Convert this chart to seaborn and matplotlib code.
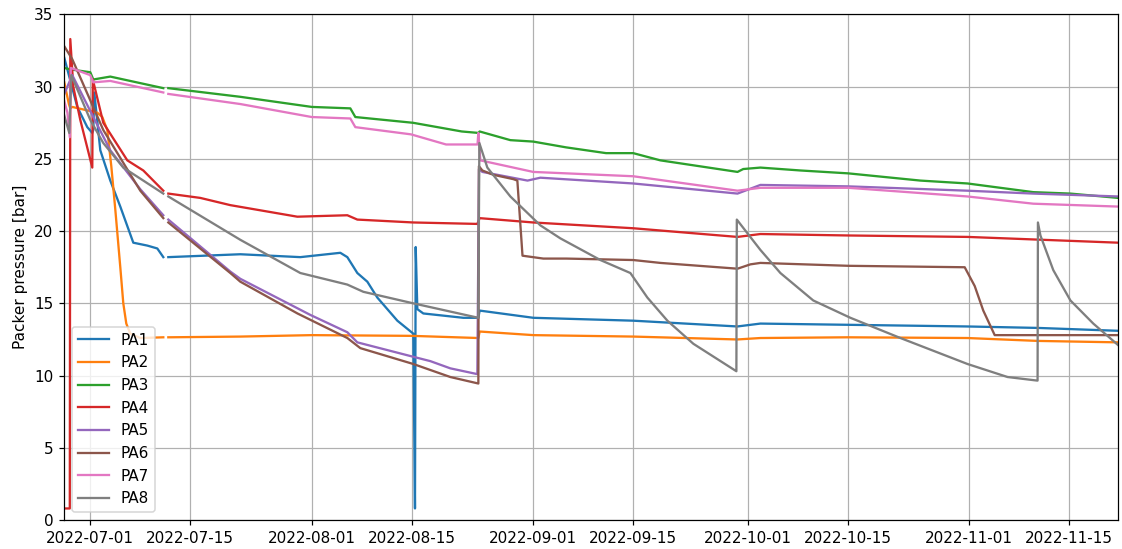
import numpy as np
import pandas as pd
import seaborn as sns
import matplotlib
matplotlib.use("Agg")
import matplotlib.pyplot as plt
import matplotlib.dates as mdates

nan = np.nan
base = pd.Timestamp("2022-07-01")

# days after 2022-07-01 and pressure [bar]; nan marks the data gap around 07-11
pa1_days = [-3.64, -1.82, -0.42, 0.28, 0.42, 0.56, 1.4, 2.8, 4.2, 6.02, 7.98, 9.38, 10.22, 10.6,
            10.92, 21.0, 29.4, 35.0, 35.98, 37.38, 38.78, 40.18, 42.98, 45.22, 45.45, 45.55,
            45.78, 46.62, 52.22, 54.32, 54.5, 62.02, 76.02, 90.58, 93.8, 122.78, 132.58, 143.9]
pa1_bar = [32.0, 28.6, 27.2, 26.8, 27.0, 29.6, 25.6, 23.5, 21.7, 19.2, 19.0, 18.8, 18.2, nan,
           18.2, 18.4, 18.2, 18.5, 18.2, 17.1, 16.5, 15.4, 13.8, 12.9, 0.8, 18.9,
           14.6, 14.3, 14.0, 14.0, 14.5, 14.0, 13.8, 13.4, 13.6, 13.4, 13.3, 13.1]

pa2_days = [-3.64, -3.0, -2.8, -2.52, 0.98, 1.68, 2.38, 2.94, 3.5, 4.2, 4.62,
            5.04, 5.6, 7.0, 10.22, 10.6, 10.92, 21.0, 31.0, 45.0, 54.32, 54.5, 62.02, 76.02,
            90.58, 93.8, 106.0, 122.78, 132.6, 143.9]
pa2_bar = [30.3, 28.8, 28.5, 28.6, 28.2, 27.9, 27.0, 24.5, 21.5, 17.5, 15.0,
           13.6, 12.9, 12.6, 12.65, nan, 12.65, 12.7, 12.8, 12.75, 12.6, 13.05, 12.8, 12.7,
           12.5, 12.6, 12.65, 12.6, 12.4, 12.3]

pa3_days = [-3.64, -2.8, 0.0, 0.42, 2.8, 10.22, 10.6, 10.92, 21.0, 31.0, 36.4, 37.1, 45.2, 52.0,
            54.32, 54.5, 58.8, 62.0, 66.6, 72.2, 76.0, 79.8, 90.6, 91.4, 93.8, 99.4, 106.1,
            116.2, 122.8, 132.0, 137.2, 143.9]
pa3_bar = [31.3, 31.2, 31.0, 30.5, 30.7, 29.9, nan, 29.9, 29.3, 28.6, 28.5, 27.9, 27.5, 26.9,
           26.8, 26.9, 26.3, 26.2, 25.8, 25.4, 25.4, 24.9, 24.1, 24.3, 24.4, 24.2, 24.0,
           23.5, 23.3, 22.7, 22.6, 22.3]

pa4_days = [-3.64, -2.87, -2.8, -2.38, -1.4, 0.28, 0.35, 1.82, 5.18, 7.42, 10.22, 10.6,
            10.92, 15.4, 19.6, 28.98, 35.98, 37.38, 45.22, 54.18, 54.5, 62.0, 76.0, 90.6, 93.8,
            106.1, 122.8, 143.9]
pa4_bar = [0.8, 0.8, 33.3, 30.0, 27.7, 24.4, 30.5, 27.5, 24.9, 24.2, 22.8, nan,
           22.6, 22.3, 21.8, 21.0, 21.1, 20.8, 20.6, 20.5, 20.9, 20.6, 20.2, 19.6, 19.8,
           19.7, 19.6, 19.2]

pa5_days = [-3.64, -2.52, 0.42, 2.8, 7.0, 10.22, 10.6, 10.92, 19.6, 21.0, 30.8, 35.98, 37.38,
            45.22, 47.6, 50.4, 54.18, 54.4, 54.88, 61.2, 63.0, 76.0, 90.6, 93.8, 106.1, 122.8,
            132.0, 143.9]
pa5_bar = [29.5, 30.8, 27.9, 25.6, 22.9, 21.1, nan, 20.8, 17.2, 16.7, 14.2, 13.0, 12.3,
           11.3, 11.0, 10.5, 10.1, 24.3, 24.1, 23.5, 23.7, 23.3, 22.6, 23.2, 23.1, 22.8,
           22.6, 22.4]

pa6_days = [-3.64, -2.52, 1.82, 7.0, 10.22, 10.6, 10.92, 19.6, 21.0, 29.0, 35.98, 37.8,
            45.22, 50.4, 54.32, 54.4, 54.88, 56.42, 59.22, 59.78, 60.5, 63.42, 66.64, 76.0,
            79.8, 90.6, 92.4, 93.8, 106.1, 122.4, 123.8, 125.0, 126.6, 132.6, 143.9]
pa6_bar = [32.8, 31.9, 27.0, 22.8, 20.9, nan, 20.6, 17.1, 16.5, 14.3, 12.6, 11.9,
           10.8, 9.9, 9.45, 24.5, 24.2, 23.9, 23.6, 23.5, 18.3, 18.1, 18.1, 18.0,
           17.8, 17.4, 17.7, 17.8, 17.6, 17.5, 16.2, 14.5, 12.8, 12.8, 12.8]

pa7_days = [-3.64, -3.2, -2.87, -2.73, 0.0, 0.42, 2.8, 10.22, 10.6, 10.92, 21.0, 31.0, 36.4,
            37.1, 44.9, 49.8, 54.2, 54.32, 54.6, 62.0, 76.0, 90.6, 93.8, 106.1, 122.8, 132.0,
            143.9]
pa7_bar = [29.0, 28.2, 26.5, 31.3, 30.8, 30.3, 30.4, 29.6, nan, 29.5, 28.8, 27.9, 27.8,
           27.2, 26.7, 26.0, 26.0, 26.8, 24.9, 24.1, 23.8, 22.8, 23.0, 23.0, 22.4, 21.9,
           21.7]

pa8_days = [-3.64, -2.94, -2.66, 0.0, 1.82, 4.62, 10.22, 10.6, 10.92, 21.0, 29.4, 35.98, 38.22,
            45.22, 54.32, 54.46, 55.58, 58.8, 63.0, 65.8, 71.4, 75.6, 77.98, 80.78, 84.42,
            90.44, 90.5, 93.8, 96.6, 101.2, 106.4, 113.4, 122.8, 128.4, 132.6, 132.65, 133.0,
            134.8, 137.2, 140.4, 143.9]
pa8_bar = [28.0, 26.8, 30.8, 27.7, 26.1, 24.4, 22.6, nan, 22.4, 19.4, 17.1, 16.3, 15.8,
           15.0, 14.0, 26.1, 24.4, 22.4, 20.4, 19.5, 18.0, 17.1, 15.4, 13.8, 12.2,
           10.3, 20.8, 18.7, 17.1, 15.2, 14.0, 12.6, 10.8, 9.9, 9.65, 20.6, 19.7,
           17.3, 15.2, 13.6, 12.1]

series = {
    "PA1": (pa1_days, pa1_bar), "PA2": (pa2_days, pa2_bar),
    "PA3": (pa3_days, pa3_bar), "PA4": (pa4_days, pa4_bar),
    "PA5": (pa5_days, pa5_bar), "PA6": (pa6_days, pa6_bar),
    "PA7": (pa7_days, pa7_bar), "PA8": (pa8_days, pa8_bar),
}

rows = []
for name, (days, vals) in series.items():
    seg = 0
    for d, v in zip(days, vals):
        if np.isnan(v):
            seg += 1
            continue
        rows.append({"sensor": name, "seg": f"{name}_{seg}",
                     "time": base + pd.Timedelta(days=d), "pressure": v})
df = pd.DataFrame(rows)

fig = plt.figure(figsize=(10.2, 4.991), dpi=110)
ax = fig.add_axes([0.0573, 0.0528, 0.9394, 0.9208])

sns.lineplot(data=df, x="time", y="pressure", hue="sensor", units="seg",
             estimator=None, palette="tab10", linewidth=1.5, ax=ax)

ax.set_xlim(df["time"].min(), df["time"].max())
ax.set_ylim(0, 35)
ax.set_yticks(range(0, 36, 5))
ax.xaxis.set_major_locator(mdates.DayLocator(bymonthday=[1, 15]))
ax.xaxis.set_major_formatter(mdates.DateFormatter("%Y-%m-%d"))
ax.grid(True)
ax.set_xlabel("")
ax.set_ylabel("Packer pressure [bar]")
sns.move_legend(ax, "lower left", title=None)

fig.savefig("out.png", dpi=110)
